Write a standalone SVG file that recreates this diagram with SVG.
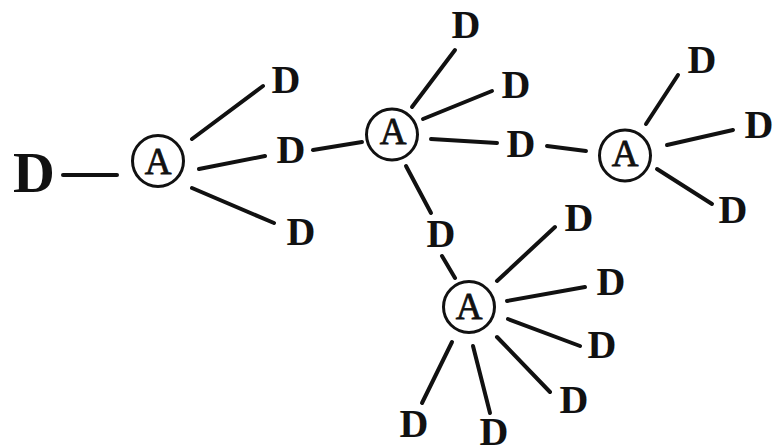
<svg xmlns="http://www.w3.org/2000/svg" width="776" height="446" viewBox="0 0 776 446">
<style>
.bg{fill:#fff}
.e{stroke:#111;stroke-width:4;stroke-linecap:round;fill:none}
.c{fill:#fff;stroke:#111;stroke-width:3}
.a{font-family:"Liberation Serif","Times New Roman",serif;font-size:37px;fill:#111;stroke:#111;stroke-width:0.8;text-anchor:middle}
.d{font-family:"Liberation Serif","Times New Roman",serif;font-size:40px;font-weight:bold;fill:#111;text-anchor:middle}
.big{font-size:58px}
</style>
<rect class="bg" x="0" y="0" width="776" height="446"/>
<g id="connectors">
<line class="e" x1="63" y1="175" x2="117" y2="175"/>
<line class="e" x1="192" y1="139" x2="263" y2="86"/>
<line class="e" x1="199" y1="169" x2="265" y2="156"/>
<line class="e" x1="192" y1="188" x2="274" y2="223"/>
<line class="e" x1="313" y1="150" x2="362" y2="142"/>
<line class="e" x1="412" y1="107" x2="455" y2="50"/>
<line class="e" x1="423" y1="119" x2="492" y2="91"/>
<line class="e" x1="431" y1="139" x2="497" y2="143"/>
<line class="e" x1="547" y1="146" x2="586" y2="151"/>
<line class="e" x1="646" y1="124" x2="678" y2="75"/>
<line class="e" x1="667" y1="145" x2="733" y2="130"/>
<line class="e" x1="657" y1="169" x2="712" y2="204"/>
<line class="e" x1="406" y1="166" x2="431" y2="213"/>
<line class="e" x1="442" y1="256" x2="455" y2="278"/>
<line class="e" x1="497" y1="281" x2="555" y2="227"/>
<line class="e" x1="507" y1="301" x2="585" y2="287"/>
<line class="e" x1="508" y1="319" x2="580" y2="346"/>
<line class="e" x1="497" y1="337" x2="550" y2="392"/>
<line class="e" x1="473" y1="346" x2="490" y2="413"/>
<line class="e" x1="452" y1="342" x2="422" y2="403"/>
</g>
<g id="A1"><circle class="c" cx="158" cy="161" r="25.5"/><text class="a" x="158" y="174">A</text></g>
<g id="A2"><circle class="c" cx="392" cy="134.5" r="25.5"/><text class="a" x="393" y="144">A</text></g>
<g id="A3"><circle class="c" cx="625" cy="155.5" r="25.5"/><text class="a" x="625" y="166">A</text></g>
<g id="A4"><circle class="c" cx="469" cy="307" r="25.5"/><text class="a" x="469" y="319">A</text></g>
<g id="D0"><text class="d big" x="34" y="192">D</text></g>
<g id="D1"><text class="d" x="286" y="93">D</text></g>
<g id="D2"><text class="d" x="291" y="163">D</text></g>
<g id="D3"><text class="d" x="301" y="245">D</text></g>
<g id="D4"><text class="d" x="466" y="38">D</text></g>
<g id="D5"><text class="d" x="516" y="98">D</text></g>
<g id="D6"><text class="d" x="521" y="157">D</text></g>
<g id="D7"><text class="d" x="702" y="73">D</text></g>
<g id="D8"><text class="d" x="759" y="138">D</text></g>
<g id="D9"><text class="d" x="733" y="223">D</text></g>
<g id="D10"><text class="d" x="441" y="247">D</text></g>
<g id="D11"><text class="d" x="579" y="231">D</text></g>
<g id="D12"><text class="d" x="611" y="295">D</text></g>
<g id="D13"><text class="d" x="602" y="358">D</text></g>
<g id="D14"><text class="d" x="574" y="413">D</text></g>
<g id="D15"><text class="d" x="494" y="445">D</text></g>
<g id="D16"><text class="d" x="414" y="437">D</text></g>
</svg>
